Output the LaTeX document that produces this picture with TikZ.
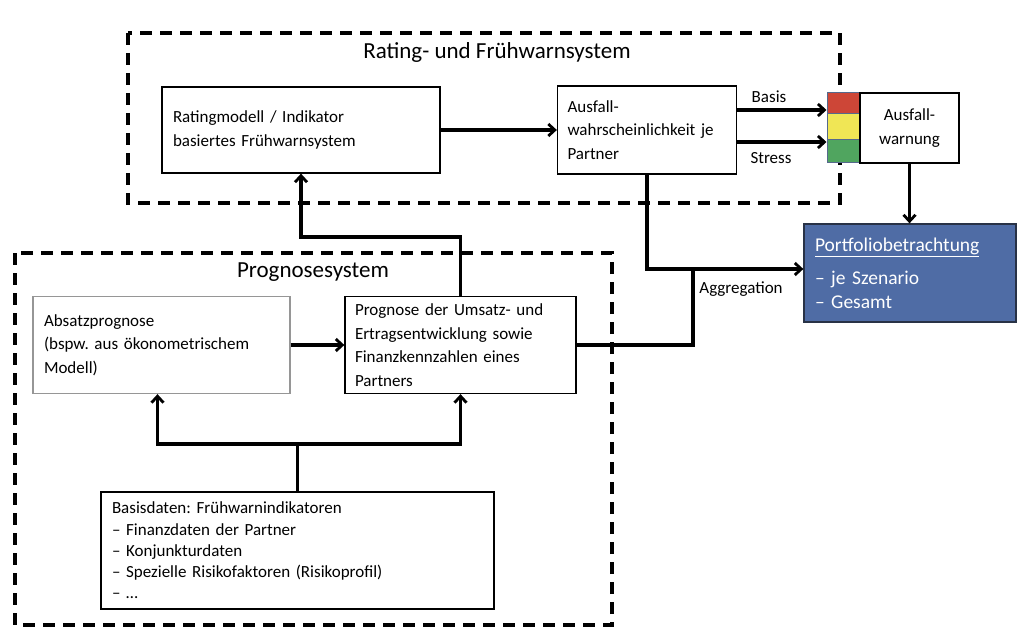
\documentclass[tikz,border=0pt]{standalone}
\usepackage{fontspec}
\setmainfont{Carlito}
\frenchspacing
\usetikzlibrary{arrows.meta}
\definecolor{portblue}{RGB}{79,108,165}
\definecolor{portedge}{RGB}{40,50,70}
\definecolor{lred}{RGB}{205,70,55}
\definecolor{lyellow}{RGB}{240,230,85}
\definecolor{lgreen}{RGB}{80,165,95}
\definecolor{ledge}{RGB}{85,105,140}
\definecolor{boxgray}{RGB}{150,150,150}
\begin{document}
\begin{tikzpicture}[x=1pt,y=-1pt,
  box/.style={draw=black, line width=1.3pt, fill=white, inner xsep=11pt, inner ysep=0pt, align=left,
    font=\fontsize{17}{23.5}\selectfont},
  sysframe/.style={draw=black, line width=3.2pt, dash pattern=on 12pt off 8pt},
  systitle/.style={font=\fontsize{23}{27}\selectfont},
  arr/.style={line width=3.3pt, -{Straight Barb[length=6.5pt,width=12pt,line width=2.8pt]}},
  conn/.style={line width=3.3pt},
  light/.style={draw=ledge, line width=1pt, minimum width=33pt, inner sep=0pt},
  lbl/.style={font=\fontsize{17}{20}\selectfont}
]
\useasboundingbox (0,0) rectangle (1024,636);

% dashed system frames
\draw[sysframe] (128,33) rectangle (840,203);
\draw[sysframe] (15,253) rectangle (612,625);
\node[systitle] (t1) at (497,52) {Rating- und Frühwarnsystem};
\node[systitle] (t2) at (313,272) {Prognosesystem};

% boxes
\node[box, minimum width=278pt, minimum height=86pt, text width=256pt] (rating) at (301,130)
  {Ratingmodell / Indikator\\basiertes Frühwarnsystem};
\node[box, minimum width=179pt, minimum height=88pt, text width=159pt, inner xsep=10pt] (ausfall) at (647,130)
  {Ausfall-\\wahrscheinlichkeit je\\Partner};
\node[light, fill=lred, minimum height=21pt] (red) at (843.5,103.5) {};
\node[light, fill=lyellow, minimum height=26pt] (yellow) at (843.5,127) {};
\node[light, fill=lgreen, minimum height=23pt] (green) at (843.5,151.5) {};
\node[box, minimum width=99pt, minimum height=70pt, inner xsep=2pt, align=center] (warn) at (909.5,128)
  {Ausfall-\\warnung};
\node[draw=portedge, line width=1.3pt, fill=portblue, text=white, minimum width=212pt, minimum height=98pt,
  text width=190pt, inner xsep=11pt, align=left, font=\fontsize{19.5}{24}\selectfont] (port) at (910,273)
  {\underline{Portfoliobetrachtung}\\[9pt]– je Szenario\\– Gesamt};
\node[box, draw=boxgray, minimum width=257pt, minimum height=97pt, text width=235pt] (absatz) at (161.5,345)
  {Absatzprognose\\(bspw. aus ökonometrischem\\Modell)};
\node[box, minimum width=231pt, minimum height=97pt, text width=211pt, inner xsep=10pt] (prog) at (460.5,345)
  {Prognose der Umsatz- und\\Ertragsentwicklung sowie\\Finanzkennzahlen eines\\Partners};
\node[box, minimum width=393pt, minimum height=117pt, text width=371pt, font=\fontsize{17}{21.3}\selectfont] (basis) at (297.5,550.5)
  {Basisdaten: Frühwarnindikatoren\\– Finanzdaten der Partner\\– Konjunkturdaten\\– Spezielle Risikofaktoren (Risikoprofil)\\– …};

% connectors
\coordinate (c1) at (460.5,237);
\coordinate (c2) at (297.5,444);
\coordinate (j) at (693,269);

\draw[arr] (rating.east) -- (ausfall.west);
\draw[arr] ([yshift=20pt]ausfall.east) -- ([yshift=20pt]ausfall.east -| red.west);
\draw[arr] ([yshift=-12pt]ausfall.east) -- ([yshift=-12pt]ausfall.east -| green.west);
\node[lbl] (basislbl) at (769,97) {Basis};
\node[lbl] (stresslbl) at (771,158) {Stress};
\draw[arr] (warn.south) -- (warn.south |- port.north);
\draw[arr] (ausfall.south) |- ([yshift=4pt]port.west);
\draw[conn] (prog.east) -| (j);
\node[lbl] (agg) at (741,289) {Aggregation};
\draw[arr] (prog.north) -- (c1) -| (rating.south);
\draw[arr] (absatz.east) -- (prog.west);
\draw[conn] (basis.north) -- (c2);
\draw[arr] (c2) -| ([xshift=-4pt]absatz.south);
\draw[arr] (c2) -| (prog.south);
\end{tikzpicture}
\end{document}
